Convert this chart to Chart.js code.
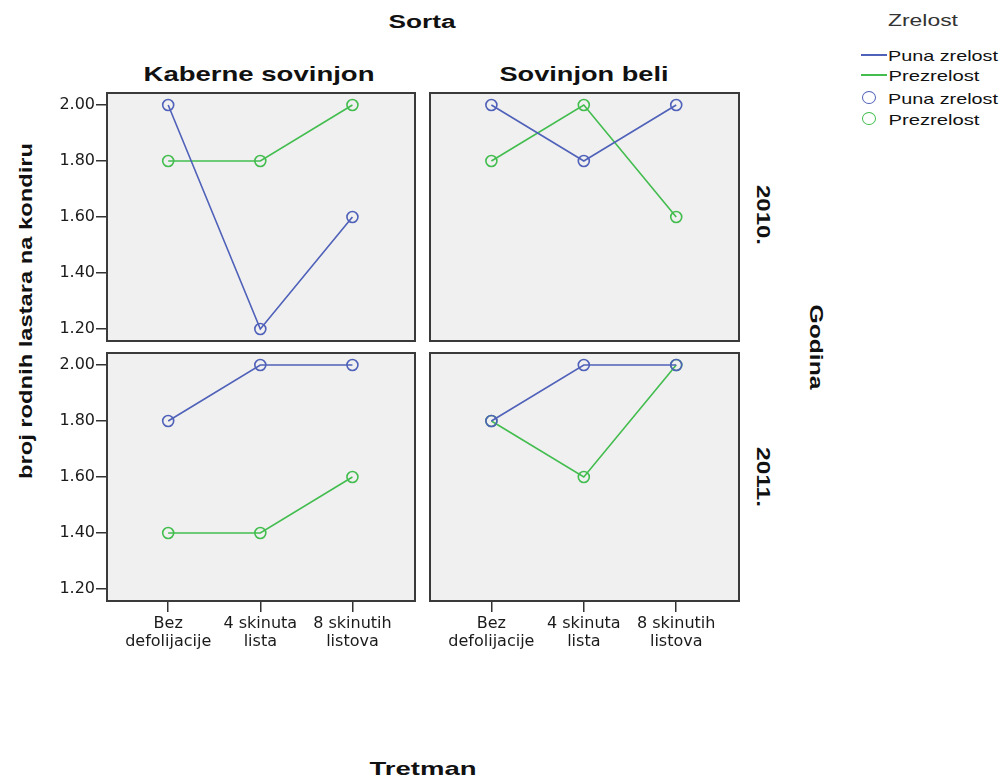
<!DOCTYPE html>
<html>
<head>
<meta charset="utf-8">
<script src="https://cdn.jsdelivr.net/npm/chart.js@4.4.0/dist/chart.umd.min.js"></script>
<style>
  body { margin: 0; background: #fff; font-family: Arial, "Liberation Sans", sans-serif; }
  #wrap { position: relative; width: 1002px; height: 776px; overflow: hidden; }
  .c { position: absolute; }
  .t { position: absolute; white-space: nowrap; color: #111; line-height: 1; }
</style>
</head>
<body>
<div id="wrap">
  <canvas id="p11" class="c"></canvas>
  <canvas id="p12" class="c"></canvas>
  <canvas id="p21" class="c"></canvas>
  <canvas id="p22" class="c"></canvas>
</div>
<script>
// x categories (Tretman)
const categories = [['Bez', 'defolijacije'], ['4 skinuta', 'lista'], ['8 skinutih', 'listova']];
const yTicks = [1.2, 1.4, 1.6, 1.8, 2.0];
const seriesNames = ['Puna zrelost', 'Prezrelost'];

// Kaberne sovinjon, 2010.
const kab2010_puna = [2.0, 1.2, 1.6];
const kab2010_prez = [1.8, 1.8, 2.0];
// Sovinjon beli, 2010.
const sov2010_puna = [2.0, 1.8, 2.0];
const sov2010_prez = [1.8, 2.0, 1.6];
// Kaberne sovinjon, 2011.
const kab2011_puna = [1.8, 2.0, 2.0];
const kab2011_prez = [1.4, 1.4, 1.6];
// Sovinjon beli, 2011.
const sov2011_puna = [1.8, 2.0, 2.0];
const sov2011_prez = [1.8, 1.6, 2.0];

const colors = ['#4f61b9', '#42bd4e'];

const Y_MIN = 1.2 - 13 / 280, Y_MAX = 2.0 + 13 / 280;
const X_MIN = -0.675, X_MAX = 2.69;

const panelBg = {
  id: 'panelBg',
  beforeDraw(chart) {
    const a = chart.chartArea, ctx = chart.ctx;
    ctx.save();
    ctx.fillStyle = '#f0f0f0';
    ctx.fillRect(a.left, a.top, a.right - a.left, a.bottom - a.top);
    ctx.restore();
  },
  afterDraw(chart) {
    const a = chart.chartArea, ctx = chart.ctx;
    ctx.save();
    ctx.strokeStyle = '#3a3a3a';
    ctx.lineWidth = 2;
    ctx.strokeRect(a.left + 1, a.top + 1, a.right - a.left - 2, a.bottom - a.top - 2);
    ctx.restore();
  }
};

function makePanel(id, puna, prez, showY, showX, box) {
  const cv = document.getElementById(id);
  const yW = showY ? 66 : 0, xH = showX ? 62 : 0;
  const w = box.w + yW, h = box.h + xH;
  cv.style.left = (box.x - yW) + 'px';
  cv.style.top = box.y + 'px';
  cv.width = w; cv.height = h;
  cv.style.width = w + 'px'; cv.style.height = h + 'px';

  const toPts = arr => arr.map((v, i) => ({ x: i, y: v }));
  const ds = [puna, prez].map((arr, k) => ({
    label: seriesNames[k],
    data: toPts(arr),
    borderColor: colors[k],
    backgroundColor: 'rgba(0,0,0,0)',
    borderWidth: 1.6,
    pointRadius: 5.5,
    pointBorderWidth: 1.6,
    pointBorderColor: colors[k],
    pointBackgroundColor: 'rgba(0,0,0,0)',
    tension: 0
  }));

  new Chart(cv, {
    type: 'line',
    data: { datasets: ds },
    options: {
      responsive: false,
      animation: false,
      layout: { padding: 0, autoPadding: false },
      plugins: { legend: { display: false }, tooltip: { enabled: false } },
      scales: {
        x: {
          type: 'linear', min: X_MIN, max: X_MAX,
          display: showX,
          border: { display: false },
          grid: { drawOnChartArea: false, drawTicks: true, tickLength: 10, color: '#333', lineWidth: 1.5 },
          afterBuildTicks: s => { s.ticks = categories.map((c, i) => ({ value: i })); },
          ticks: {
            autoSkip: false, maxRotation: 0, padding: 3,
            color: '#1a1a1a', font: { family: 'DejaVu Sans', size: 16, lineHeight: 1.1 },
            callback: v => categories[v]
          },
          afterFit: s => { s.height = xH; s.paddingLeft = 0; s.paddingRight = 0; }
        },
        y: {
          type: 'linear', min: Y_MIN, max: Y_MAX,
          display: showY,
          border: { display: false },
          grid: { drawOnChartArea: false, drawTicks: true, tickLength: 10, color: '#333', lineWidth: 1.5 },
          afterBuildTicks: s => { s.ticks = yTicks.map(v => ({ value: v })); },
          ticks: {
            padding: 1, color: '#1a1a1a', font: { family: 'DejaVu Sans', size: 16 },
            callback: v => v.toFixed(2)
          },
          afterFit: s => { s.width = yW; s.paddingTop = 0; s.paddingBottom = 0; }
        }
      }
    },
    plugins: [panelBg]
  });
}

makePanel('p11', kab2010_puna, kab2010_prez, true, false, { x: 106, y: 92, w: 310, h: 250 });
makePanel('p12', sov2010_puna, sov2010_prez, false, false, { x: 429, y: 92, w: 311, h: 250 });
makePanel('p21', kab2011_puna, kab2011_prez, true, true, { x: 106, y: 352, w: 310, h: 250 });
makePanel('p22', sov2011_puna, sov2011_prez, false, true, { x: 429, y: 352, w: 311, h: 250 });

// titles, stretched to the widths seen in the picture
const wrap = document.getElementById('wrap');
function label(text, cx, cy, size, bold, len, rot, color) {
  const el = document.createElement('div');
  el.className = 't';
  el.textContent = text;
  el.style.fontSize = size + 'px';
  if (bold) el.style.fontWeight = 'bold';
  if (color) el.style.color = color;
  el.style.left = cx + 'px';
  el.style.top = cy + 'px';
  wrap.appendChild(el);
  const sx = len / el.getBoundingClientRect().width;
  el.style.transform = 'translate(-50%,-50%) rotate(' + (rot || 0) + 'deg) scaleX(' + sx + ')';
}
label('Sorta', 422, 22, 18, true, 67);
label('Kaberne sovinjon', 259, 73, 21, true, 231);
label('Sovinjon beli', 584, 73, 21, true, 169);
label('2010.', 763, 215, 19, true, 60, 90);
label('2011.', 763, 477, 19, true, 60, 90);
label('Godina', 816, 347, 18, true, 85, 90);
label('broj rodnih lastara na kondiru', 26, 311, 18, true, 336, -90);
label('Tretman', 423, 768, 19, true, 107);

// legend
label('Zrelost', 923, 20, 17, false, 70, 0, '#333');
const legRows = [
  { kind: 'line', k: 0, y: 55 }, { kind: 'line', k: 1, y: 75 },
  { kind: 'dot', k: 0, y: 98 }, { kind: 'dot', k: 1, y: 119 }
];
legRows.forEach(r => {
  const m = document.createElement('div');
  m.style.position = 'absolute';
  if (r.kind === 'line') {
    m.style.left = '861px'; m.style.top = (r.y - 1) + 'px';
    m.style.width = '26px'; m.style.height = '0';
    m.style.borderTop = '2px solid ' + colors[r.k];
  } else {
    m.style.left = '862px'; m.style.top = (r.y - 7) + 'px';
    m.style.width = '12px'; m.style.height = '11px';
    m.style.border = '1.6px solid ' + colors[r.k];
    m.style.borderRadius = '50%';
  }
  wrap.appendChild(m);
  const name = seriesNames[r.k];
  label(name, 888 + (name === 'Puna zrelost' ? 110 : 91) / 2, r.y, 15, false, name === 'Puna zrelost' ? 110 : 91);
});
</script>
</body>
</html>
